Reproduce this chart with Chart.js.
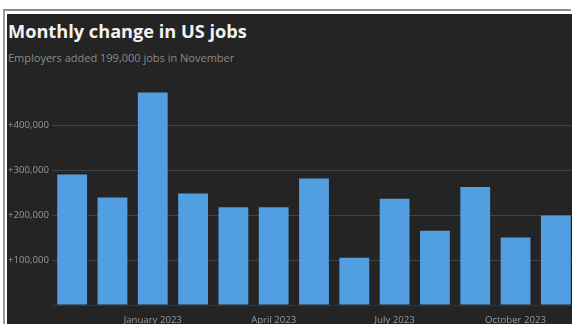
<!DOCTYPE html>
<html>
<head>
<meta charset="utf-8">
<script src="https://cdn.jsdelivr.net/npm/chart.js@4/dist/chart.umd.min.js"></script>
<style>
  html, body { margin: 0; padding: 0; background: #ffffff; width: 572px; height: 324px; overflow: hidden; position: relative; }
  .frame { position: absolute; left: 3px; top: 9px; right: 1px; bottom: 0; border-top: 2px solid #8c8c8c; border-left: 2px solid #9a9a9a; }
  .panel { position: absolute; left: 7px; top: 14px; right: 0; bottom: 0; background: #242424; overflow: hidden; }
  .title { position: absolute; left: 1px; top: 6px; font-family: "Open Sans", sans-serif; font-weight: 700; font-size: 18.2px; line-height: 22px; color: #f2f2f2; white-space: nowrap; }
  .subtitle { position: absolute; left: 1px; top: 36px; font-family: "Open Sans", sans-serif; font-size: 11px; line-height: 15px; color: #8a8a8a; white-space: nowrap; }
  canvas { position: absolute; left: 0; top: 0; }
</style>
</head>
<body>
<div class="frame"></div>
<div class="panel">
  <div class="title">Monthly change in US jobs</div>
  <div class="subtitle">Employers added 199,000 jobs in November</div>
  <canvas id="jobs" width="570" height="310"></canvas>
</div>
<script>
// Months shown, November 2022 through November 2023
const months = [
  'November 2022', 'December 2022', 'January 2023', 'February 2023', 'March 2023',
  'April 2023', 'May 2023', 'June 2023', 'July 2023', 'August 2023',
  'September 2023', 'October 2023', 'November 2023'
];
// Net change in nonfarm payrolls for each month
const jobsAdded = [290000, 239000, 472000, 248000, 217000, 217000, 281000, 105000, 236000, 165000, 262000, 150000, 199000];
// Month labels printed under the axis
const xTickLabels = ['January 2023', 'April 2023', 'July 2023', 'October 2023'];
// Gridline values with printed labels
const yTickValues = [100000, 200000, 300000, 400000];

const fmt = v => '+' + v.toLocaleString('en-US');

new Chart(document.getElementById('jobs'), {
  type: 'bar',
  data: {
    labels: months,
    datasets: [{
      data: jobsAdded,
      backgroundColor: '#519fe0',
      borderWidth: 0,
      categoryPercentage: 1,
      barPercentage: 0.74
    }]
  },
  options: {
    responsive: false,
    animation: false,
    devicePixelRatio: 1,
    layout: { padding: { left: 1, right: 1, top: 66, bottom: 0 } },
    plugins: { legend: { display: false }, tooltip: { enabled: false } },
    scales: {
      x: {
        grid: { display: false },
        border: { display: true, color: '#3a342e', width: 1 },
        ticks: {
          autoSkip: false,
          maxRotation: 0,
          padding: 2,
          color: '#9a9a9a',
          font: { family: 'Open Sans', size: 9.6 },
          callback: function (value) {
            const name = this.getLabelForValue(value);
            return xTickLabels.includes(name) ? name : '';
          }
        },
        afterFit: s => { s.height = 19; }
      },
      y: {
        min: 0,
        max: 500000,
        border: { display: false },
        grid: {
          drawTicks: false,
          lineWidth: 1,
          color: c => yTickValues.includes(c.tick.value) ? '#424242' : 'rgba(0,0,0,0)'
        },
        ticks: {
          stepSize: 100000,
          crossAlign: 'far',
          padding: 0,
          color: '#9a9a9a',
          font: { family: 'Open Sans', size: 9.6 },
          callback: v => yTickValues.includes(v) ? fmt(v) : ''
        },
        afterFit: s => { s.width = 44; }
      }
    }
  }
});
</script>
</body>
</html>
